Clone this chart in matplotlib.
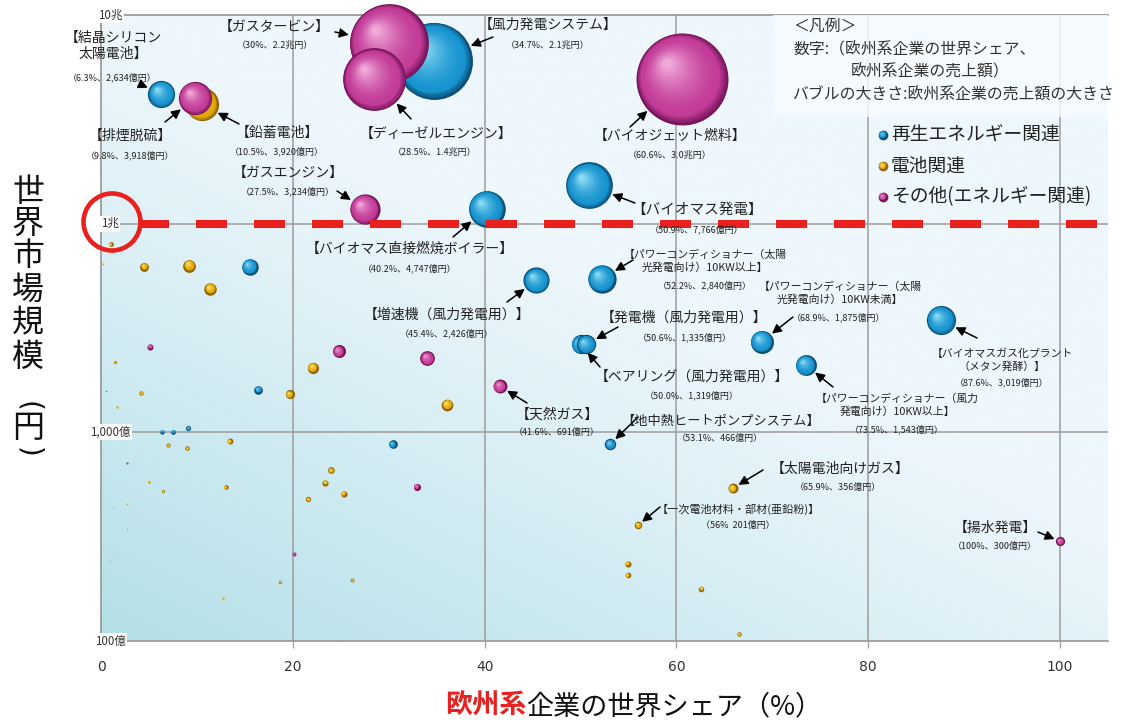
"""
欧州系企業の世界シェアと世界市場規模のバブルチャート
"""

import numpy as np
import matplotlib

matplotlib.use("Agg")
import matplotlib.pyplot as plt
from matplotlib.patches import Ellipse, Rectangle
from matplotlib.transforms import offset_copy

plt.rcParams["font.family"] = ["Noto Sans CJK JP", "DejaVu Sans"]

# ---- data -------------------------------------------------------------
# labelled products: share of European firms (%), their sales (億円)
names = [
    "【結晶シリコン\n太陽電池】",
    "【鉛蓄電池】",
    "【排煙脱硫】",
    "【風力発電システム】",
    "【ガスタービン】",
    "【ディーゼルエンジン】",
    "【ガスエンジン】",
    "【バイオジェット燃料】",
    "【バイオマス発電】",
    "【バイオマス直接燃焼ボイラー】",
    "【パワーコンディショナー（太陽\n光発電向け）10KW以上】",
    "【増速機（風力発電用）】",
    "【ベアリング（風力発電用）】",
    "【発電機（風力発電用）】",
    "【パワーコンディショナー（太陽\n光発電向け）10KW未満】",
    "【バイオマスガス化プラント\n（メタン発酵）】",
    "【パワーコンディショナー（風力\n発電向け）10KW以上】",
    "【天然ガス】",
    "【地中熱ヒートポンプシステム】",
    "【太陽電池向けガス】",
    "【一次電池材料・部材(亜鉛粉)】",
    "【揚水発電】",
]
value_texts = [
    "（6.3%、2,634億円）",
    "（10.5%、3,920億円）",
    "（9.8%、3,918億円）",
    "（34.7%、2.1兆円）",
    "（30%、2.2兆円）",
    "（28.5%、1.4兆円）",
    "（27.5%、3,234億円）",
    "（60.6%、3.0兆円）",
    "（50.9%、7,766億円）",
    "（40.2%、4,747億円）",
    "（52.2%、2,840億円）",
    "（45.4%、2,426億円）",
    "（50.0%、1,319億円）",
    "（50.6%、1,335億円）",
    "（68.9%、1,875億円）",
    "（87.6%、3,019億円）",
    "（73.5%、1,543億円）",
    "（41.6%、691億円）",
    "（53.1%、466億円）",
    "（65.9%、356億円）",
    "（56%  201億円）",
    "（100%、300億円）",
]
share = [6.3, 10.5, 9.8, 34.7, 30.0, 28.5, 27.5, 60.6, 50.9, 40.2, 52.2,
         45.4, 50.0, 50.6, 68.9, 87.6, 73.5, 41.6, 53.1, 65.9, 56.0, 100.0]
sales = [2634, 3920, 3918, 21000, 22000, 14000, 3234, 30000, 7766, 4747, 2840,
         2426, 1319, 1335, 1875, 3019, 1543, 691, 466, 356, 201, 300]
group = ["renew", "battery", "other", "renew", "other", "other", "other",
         "other", "renew", "renew", "renew", "renew", "renew", "renew",
         "renew", "renew", "renew", "other", "renew", "battery", "battery",
         "other"]

# unlabelled products: share (%), world market (億円)
small_share = [15.5, 16.4, 6.4, 7.5, 9.1, 30.4, 0.5, 0.9,
               1.0, 0.2, 4.5, 9.2, 11.4, 1.5, 4.2, 1.7, 22.1, 19.7, 36.1,
               7.0, 9.0, 13.4, 5.0, 6.5, 13.0, 2.7, 1.3, 2.7, 1.7, 1.9,
               24.0, 23.4, 25.3, 21.6, 18.7, 26.2, 12.7, 54.9, 54.9, 62.6,
               66.5,
               5.1, 24.8, 34.0, 2.7, 20.1, 32.9]
small_market = [6226, 1600, 1007, 1007, 1050, 879, 1570, 242,
                7960, 6430, 6226, 6300, 4870, 2170, 1542, 1327, 2040, 1520,
                1358, 869, 841, 906, 581, 524, 546, 454, 441, 343, 263, 125,
                658, 573, 509, 478, 192, 196, 161, 235, 207, 178, 108,
                2578, 2449, 2270, 716, 261, 550]
small_group = ["renew"] * 8 + ["battery"] * 33 + ["other"] * 6

legend_names = ["再生エネルギー関連", "電池関連", "その他(エネルギー関連)"]
legend_groups = ["renew", "battery", "other"]
x_ticks = [0, 20, 40, 60, 80, 100]
y_ticks = [100000, 10000, 1000, 100]
y_tick_labels = ["10兆", "1兆", "1,000億", "100億"]

# ---- layout (figure pixels) -------------------------------------------
W, H = 1128, 720
label_pos = [(113, 46), (277, 133), (130, 136), (548, 25), (274, 27),
             (436, 134), (288, 173), (670, 136), (697, 210), (410, 249),
             (705, 261), (447, 315), (692, 377), (684, 318), (840, 293),
             (1002, 360), (897, 405), (557, 415), (721, 421), (840, 469),
             (738, 509), (995, 528)]
value_pos = [(112, 77), (277, 151), (130, 155), (548, 45), (275, 45),
             (435, 152), (288, 191), (670, 155), (697, 229), (410, 268),
             (705, 285), (447, 333), (692, 395), (685, 337), (839, 317),
             (1002, 382), (897, 429), (557, 432), (720, 438), (838, 487),
             (738, 525), (995, 546)]
arrow_tail = [(144, 86), (239, 124), (165, 122), (493, 37), (335, 32),
              (411, 119), (337, 191), (630, 127), (635, 203), (453, 237),
              (633, 260), (507, 302), (600, 367), (618, 327), (793, 317),
              (977, 338), (833, 387), (527, 403), (638, 417), (763, 470),
              (660, 507), (1038, 532)]
label_size = [10, 10, 10, 10, 10, 10, 10, 10, 10.5, 10, 7.8, 10, 10, 10,
              7.8, 7.8, 7.8, 10, 9.5, 10, 8, 10]

PALETTES = {
    "renew": ("#0a4f78", "#1794cf", "#8fdcf6"),
    "battery": ("#946400", "#e2a900", "#fff1a0"),
    "other": ("#751459", "#c23b98", "#f0a8d8"),
}
BIG_DIAMETER = 66.2  # points, for 3.0兆円


def fpos(x, y):
    return x / W, 1 - y / H


def mix(c1, c2, t):
    a = np.array(matplotlib.colors.to_rgb(c1))
    b = np.array(matplotlib.colors.to_rgb(c2))
    return tuple(a + (b - a) * t)


def diameter(v):
    return BIG_DIAMETER * np.sqrt(v / 30000.0)


def sphere(ax, x, y, d_pt, key, base=None, zorder=3):
    """Draw a shaded ball of diameter d_pt (points) at (x, y)."""
    base = ax.transData if base is None else base
    edge, body, light = PALETTES[key]
    d_px = d_pt / 0.72
    if d_px < 3:
        ax.scatter([x], [y], s=d_pt ** 2, color=body, lw=0,
                   transform=base, zorder=zorder, clip_on=False)
        return
    n = int(np.clip(d_px / 2.2, 4, 34))
    r = d_pt / 2
    for i in range(n):
        t = i / (n - 1)
        frac = 1 - 0.9 * t
        if t < 0.15:
            c = mix(edge, body, t / 0.15)
        else:
            c = mix(body, light, ((t - 0.15) / 0.85) ** 1.6)
        shift = r * (1 - frac) * 0.5
        trans = offset_copy(base, fig=ax.figure, x=-0.75 * shift,
                            y=0.75 * shift, units="points")
        ax.scatter([x], [y], s=(d_pt * frac) ** 2, color=c, lw=0,
                   transform=trans, zorder=zorder, clip_on=False)


fig = plt.figure(figsize=(W / 100, H / 100), dpi=100)
ax = fig.add_axes([101 / W, 1 - 641 / H, 1007 / W, 626 / H])
ax.set_xlim(0, 105)
ax.set_yscale("log")
ax.set_ylim(100, 100000)

# plot area gradient: pale at the top right, cyan at the bottom left
u, v = np.meshgrid(np.linspace(0, 1, 300), np.linspace(0, 1, 200))
t = np.clip(1 - (0.8 * u + v), 0, 1) ** 1.1
light_bg = np.array(matplotlib.colors.to_rgb("#eef7fc"))
dark_bg = np.array(matplotlib.colors.to_rgb("#b3dfe8"))
grad = light_bg + (dark_bg - light_bg) * t[..., None]
ax.imshow(grad, extent=[0, 1, 0, 1], transform=ax.transAxes, origin="lower",
          aspect="auto", zorder=0, interpolation="bilinear")

# legend backdrop
x0, y0 = fpos(773, 117)
x1, y1 = fpos(1108, 15)
fig.add_artist(Rectangle((x0, y0), x1 - x0, y1 - y0,
                         transform=fig.transFigure, color="#f6fbfe",
                         alpha=0.85, zorder=0.5, lw=0))

for xv in x_ticks[1:]:
    ax.axvline(xv, color="#9c9c9c", lw=1.1, zorder=1)
for yv in y_ticks[1:3]:
    ax.axhline(yv, color="#9c9c9c", lw=1.1, zorder=1)

for side in ["left", "bottom", "top"]:
    ax.spines[side].set_color("#9c9c9c")
    ax.spines[side].set_linewidth(1.3)
ax.spines["right"].set_visible(False)

ax.set_xticks(x_ticks)
ax.set_xticklabels([str(xv) for xv in x_ticks], family="DejaVu Sans")
ax.tick_params(axis="x", length=5, color="#9c9c9c", pad=9, labelsize=10,
               labelcolor="#333333")
ax.set_yticks([])
ax.set_yticks([], minor=True)

for yv, lab in zip(y_ticks, y_tick_labels):
    ax.text(0.009, yv, lab, transform=ax.get_yaxis_transform(),
            ha="center", va="center", fontsize=8.3, color="#333333",
            zorder=7, bbox=dict(boxstyle="square,pad=0.12", fc="white",
                                ec="none"))

# unlabelled balls first, then labelled ones on top
for sx, mk, g in zip(small_share, small_market, small_group):
    sphere(ax, sx, mk, diameter(sx * mk / 100), g)

for i, (sx, sv, g) in enumerate(zip(share, sales, group)):
    market = sv / (sx / 100)
    d = diameter(sv)
    sphere(ax, sx, market, d, g, zorder=4)
    ax.annotate("", xy=(sx, market), xycoords="data",
                xytext=fpos(*arrow_tail[i]), textcoords="figure fraction",
                arrowprops=dict(arrowstyle="-|>,head_length=0.55,head_width=0.28",
                                color="black", lw=1.1, shrinkA=0,
                                shrinkB=d / 2 + 1),
                zorder=6, annotation_clip=False)
    fig.text(*fpos(*label_pos[i]), names[i], ha="center", va="center",
             fontsize=label_size[i], color="#222222", linespacing=1.25,
             zorder=6)
    fig.text(*fpos(*value_pos[i]), value_texts[i], ha="center", va="center",
             fontsize=6.5, color="#222222", zorder=6)

# 1兆円 threshold
ax.plot([3.85, 106.1], [10000, 10000], color="#e8211f", lw=5.8,
        ls=(0, (3.85, 3.35)), dash_capstyle="butt", zorder=8, clip_on=False)
cx, cy = fpos(112, 222)
fig.add_artist(Ellipse((cx, cy), 57 / W, 57 / H, transform=fig.transFigure,
                       fill=False, ec="#e8211f", lw=3.3, zorder=10))

# legend
legend_lines = [("＜凡例＞", 793, 26), ("数字:（欧州系企業の世界シェア、", 793, 49),
                ("欧州系企業の売上額）", 851, 71),
                ("バブルの大きさ:欧州系企業の売上額の大きさ", 793, 94)]
for text, lx, ly in legend_lines:
    fig.text(*fpos(lx, ly), text, ha="left", va="center", fontsize=11.4,
             color="#333333", zorder=7)
for k, (lab, g) in enumerate(zip(legend_names, legend_groups)):
    ly = 135 + 31 * k
    sphere(ax, (883 - 101) / 1007, (641 - ly) / 626, 7.0, g,
           base=ax.transAxes, zorder=7)
    fig.text(*fpos(891, ly), lab, ha="left", va="center", fontsize=13.5,
             color="#222222", zorder=7)

# axis titles: vertical y title, brackets turned sideways
ylabel_chars = ["世", "界", "市", "場", "規", "模", "円"]
ylabel_y = [192, 224, 256, 290, 323, 357, 428]
for ch, cyy in zip(ylabel_chars, ylabel_y):
    fig.text(*fpos(28, cyy), ch, ha="center", va="center", fontsize=23,
             color="#111111")
for ch, cyy in [("(", 406), (")", 452)]:
    fig.text(*fpos(28, cyy), ch, ha="center", va="center", fontsize=20,
             rotation=-90, family="DejaVu Sans", color="#111111")

t1 = fig.text(*fpos(445, 714), "欧州系", ha="left", va="baseline",
              fontsize=19.5, color="#e8211f", fontweight="bold")
renderer = fig.canvas.get_renderer()
bb = t1.get_window_extent(renderer)
fig.text(bb.x1 / W, 1 - 714 / H, "企業の世界シェア（%）", ha="left",
         va="baseline", fontsize=19.5, color="#111111")

fig.savefig("out.png", dpi=100)
